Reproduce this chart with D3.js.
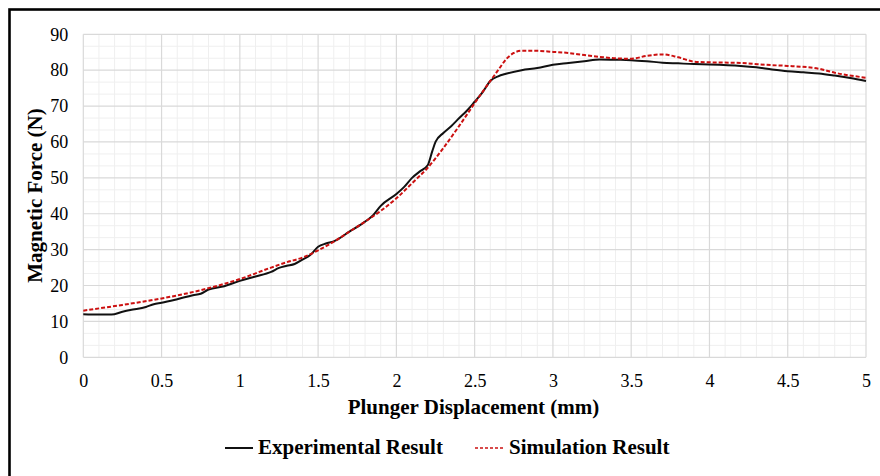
<!DOCTYPE html>
<html>
<head>
<meta charset="utf-8">
<script src="https://cdn.jsdelivr.net/npm/d3@7/dist/d3.min.js"></script>
<style>
  html, body { margin: 0; padding: 0; background: #fff; }
  svg { display: block; }
  text { font-family: "Liberation Serif", "Times New Roman", serif; }
</style>
</head>
<body>
<svg id="chart" width="880" height="476"></svg>
<script>
// ---- data ----
const expX = [0, 0.1, 0.18, 0.25, 0.3, 0.4, 0.45, 0.5, 0.6, 0.7, 0.75, 0.8, 0.9, 1.0, 1.1, 1.2, 1.25, 1.3, 1.35, 1.4, 1.45, 1.5, 1.55, 1.6, 1.7, 1.8, 1.85, 1.9, 2.0, 2.05, 2.1, 2.15, 2.2, 2.23, 2.25, 2.3, 2.35, 2.4, 2.45, 2.5, 2.55, 2.6, 2.65, 2.7, 2.8, 2.9, 3.0, 3.1, 3.2, 3.3, 3.4, 3.5, 3.6, 3.7, 3.8, 3.9, 4.0, 4.2, 4.3, 4.4, 4.5, 4.6, 4.7, 4.8, 4.9, 5.0];
const expY = [12, 11.9, 11.9, 12.7, 13.2, 14, 14.8, 15.2, 16.2, 17.3, 17.7, 18.9, 19.8, 21.3, 22.5, 23.8, 24.9, 25.5, 26, 27.2, 28.5, 30.8, 31.7, 32.3, 35, 37.8, 39.5, 42.2, 45.5, 47.5, 50, 51.8, 53.5, 57.5, 60, 62.5, 64.4, 66.6, 68.7, 71.2, 73.8, 77, 78.3, 79, 80, 80.6, 81.5, 82, 82.5, 83, 82.9, 82.8, 82.5, 82.1, 81.9, 81.7, 81.6, 81.2, 80.8, 80.2, 79.7, 79.4, 79.1, 78.5, 77.8, 77];
const simX = [0, 0.25, 0.5, 0.75, 1.0, 1.2, 1.3, 1.4, 1.5, 1.6, 1.7, 1.8, 1.9, 2.0, 2.1, 2.2, 2.3, 2.4, 2.5, 2.6, 2.65, 2.7, 2.75, 2.8, 2.9, 3.0, 3.1, 3.2, 3.3, 3.4, 3.5, 3.6, 3.7, 3.8, 3.9, 4.0, 4.2, 4.4, 4.5, 4.7, 4.8, 5.0];
const simY = [13, 14.6, 16.4, 18.7, 21.8, 25, 26.5, 27.8, 29.8, 32.2, 35, 37.8, 40.8, 44.3, 48.5, 52.8, 58.3, 64.4, 70.8, 77, 80, 83, 84.8, 85.4, 85.4, 85.1, 84.8, 84.2, 83.7, 83.3, 83.2, 84, 84.4, 83.6, 82.4, 82.2, 82, 81.4, 81.2, 80.4, 79.3, 77.9];
const xTicks = [0, 0.5, 1, 1.5, 2, 2.5, 3, 3.5, 4, 4.5, 5];
const xTickLabels = ["0", "0.5", "1", "1.5", "2", "2.5", "3", "3.5", "4", "4.5", "5"];
const yTicks = [0, 10, 20, 30, 40, 50, 60, 70, 80, 90];
const seriesNames = ["Experimental Result", "Simulation Result"];
const xTitle = "Plunger Displacement (mm)";
const yTitle = "Magnetic Force (N)";

// ---- layout ----
const svg = d3.select("#chart");
const L = 83.3, R = 866, T = 34.3, B = 357.3;
const x = d3.scaleLinear().domain([0, 5]).range([L, R]);
const y = d3.scaleLinear().domain([0, 90]).range([B, T]);
const tickFs = 18, titleFs = 21;

// outer frame (partly cropped)
svg.append("rect").attr("x", 9.5).attr("y", 9.5).attr("width", 1000).attr("height", 1000)
  .attr("fill", "none").attr("stroke", "#000").attr("stroke-width", 2.6);

// minor gridlines
const g = svg.append("g");
const minorX = d3.range(0, 51).map(i => i / 10).filter(v => Math.abs(v * 2 - Math.round(v * 2)) > 1e-6);
const minorY = d3.range(0, 28).map(i => i * 10 / 3).filter(v => Math.abs(v / 10 - Math.round(v / 10)) > 1e-6);
g.selectAll(".mx").data(minorX).enter().append("line")
  .attr("x1", d => x(d)).attr("x2", d => x(d)).attr("y1", T).attr("y2", B)
  .attr("stroke", "#efefef").attr("stroke-width", 1);
g.selectAll(".my").data(minorY).enter().append("line")
  .attr("x1", L).attr("x2", R).attr("y1", d => y(d)).attr("y2", d => y(d))
  .attr("stroke", "#efefef").attr("stroke-width", 1);
// major gridlines
g.selectAll(".Mx").data(xTicks).enter().append("line")
  .attr("x1", d => x(d)).attr("x2", d => x(d)).attr("y1", T).attr("y2", B)
  .attr("stroke", "#d9d9d9").attr("stroke-width", 1.2);
g.selectAll(".My").data(yTicks).enter().append("line")
  .attr("x1", L).attr("x2", R).attr("y1", d => y(d)).attr("y2", d => y(d))
  .attr("stroke", "#d9d9d9").attr("stroke-width", 1.2);

// axes (labels only)
const xAxis = d3.axisBottom(x).tickValues(xTicks).tickFormat((d, i) => xTickLabels[i]).tickSize(0).tickPadding(16.6);
const yAxis = d3.axisLeft(y).tickValues(yTicks).tickSize(0).tickPadding(15);
const gx = svg.append("g").attr("transform", `translate(0,${B})`).call(xAxis);
const gy = svg.append("g").attr("transform", `translate(${L},0)`).call(yAxis);
[gx, gy].forEach(a => {
  a.select(".domain").remove();
  a.selectAll("text").attr("font-family", "Liberation Serif, serif").attr("font-size", tickFs).attr("fill", "#000");
});

// lines
const line = d3.line().x(d => x(d[0])).y(d => y(d[1])).curve(d3.curveMonotoneX);
const expData = expX.map((v, i) => [v, expY[i]]);
const simData = simX.map((v, i) => [v, simY[i]]);
svg.append("path").datum(expData).attr("d", line)
  .attr("fill", "none").attr("stroke", "#111").attr("stroke-width", 2);
svg.append("path").datum(simData).attr("d", line)
  .attr("fill", "none").attr("stroke", "#cc1010").attr("stroke-width", 2).attr("stroke-dasharray", "4,2");

// titles
svg.append("text").attr("x", 473.5).attr("y", 413.5).attr("text-anchor", "middle")
  .attr("font-size", titleFs).attr("font-weight", "bold").text(xTitle);
svg.append("text").attr("transform", "translate(42,195.5) rotate(-90)").attr("text-anchor", "middle")
  .attr("font-size", titleFs).attr("font-weight", "bold").text(yTitle);

// legend
const lg = svg.append("g");
lg.append("line").attr("x1", 225).attr("x2", 253).attr("y1", 448).attr("y2", 448)
  .attr("stroke", "#111").attr("stroke-width", 2);
lg.append("text").attr("x", 258).attr("y", 454).attr("font-size", titleFs).attr("font-weight", "bold").text(seriesNames[0]);
lg.append("line").attr("x1", 475).attr("x2", 503).attr("y1", 448).attr("y2", 448)
  .attr("stroke", "#cc1010").attr("stroke-width", 1.5).attr("stroke-dasharray", "3,2");
lg.append("text").attr("x", 509).attr("y", 454).attr("font-size", titleFs).attr("font-weight", "bold").text(seriesNames[1]);
</script>
</body>
</html>
